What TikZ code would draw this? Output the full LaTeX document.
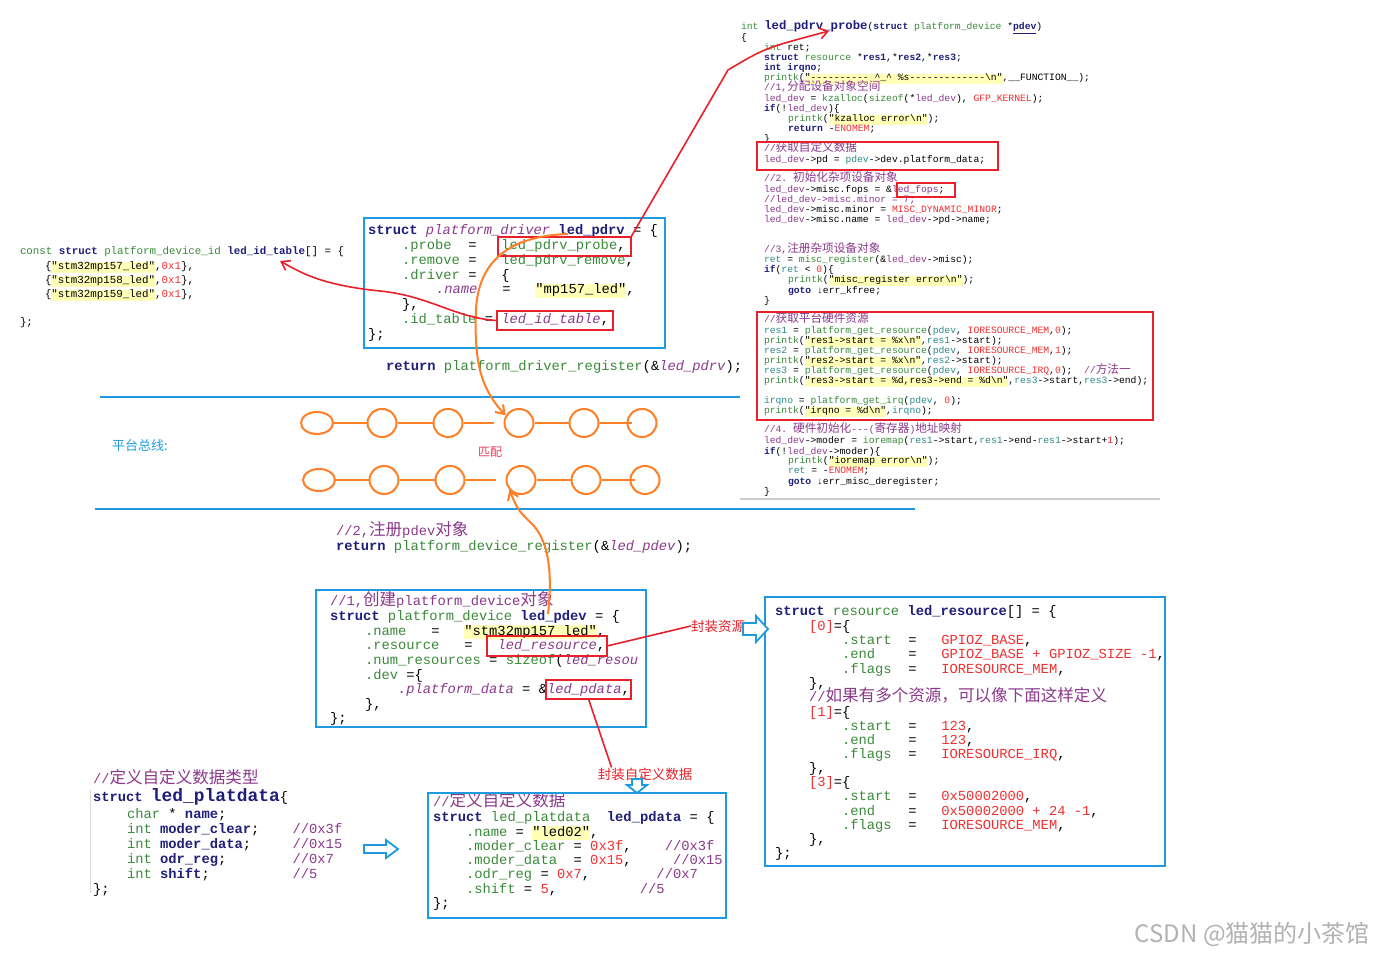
\documentclass[tikz,border=0pt]{standalone}
\usepackage{fontspec}
\setmonofont{Liberation Mono}
\newfontfamily\cjk[Scale=1.2]{Noto Sans CJK SC}
\newfontfamily\cjkb{Noto Sans CJK SC}
\usetikzlibrary{shapes.geometric,arrows.meta}
\definecolor{kw}{HTML}{1F1F7A}
\definecolor{gn}{HTML}{3A8A3A}
\definecolor{pu}{HTML}{8B3A8B}
\definecolor{rd}{HTML}{F03030}
\definecolor{tl}{HTML}{2E8B8B}
\definecolor{hly}{HTML}{FFFFB8}
\definecolor{blueL}{HTML}{1E9BE0}
\definecolor{orangeL}{HTML}{FF7F27}
\definecolor{redL}{HTML}{E8202A}
\definecolor{pinkL}{HTML}{E8405A}
\newcommand\cK[1]{{\color{kw}\bfseries #1}}
\newcommand\cG[1]{{\color{gn}#1}}
\newcommand\cP[1]{{\color{pu}#1}}
\newcommand\cI[1]{{\color{pu}\itshape #1}}
\newcommand\cR[1]{{\color{rd}#1}}
\newcommand\cT[1]{{\color{tl}#1}}
\newcommand\zh[1]{{\cjk #1}}
\newcommand\bs{\textbackslash}
\newcommand\hl[1]{{\setlength{\fboxsep}{0pt}\colorbox{hly}{\strut #1}}}
\newcounter{lnc}
\newcommand\codeln[3]{\stepcounter{lnc}\node[cl] (ln\thelnc) at (#1,#2) {#3};}
\tikzset{
  cl/.style={anchor=base west, inner sep=0pt, outer sep=0pt},
  rbox/.style={draw=redL, line width=1.6pt, inner sep=0pt, outer sep=0pt, anchor=north west},
  bbox/.style={draw=blueL, line width=2pt, inner sep=0pt, outer sep=0pt, anchor=north west},
  bub/.style={ellipse, draw=orangeL, line width=2pt, minimum width=29, minimum height=28, inner sep=0pt},
  bubw/.style={bub, minimum width=32, minimum height=22},
  orgline/.style={draw=orangeL, line width=2pt},
  orgarr/.style={draw=orangeL, line width=2pt, -{Straight Barb[length=8pt,width=11pt]}},
  redl/.style={draw=redL, line width=1.6pt},
  redarr/.style={draw=redL, line width=1.6pt, -{Straight Barb[length=8pt,width=11pt]}},
  hollow/.style={draw=blueL, line width=1.8pt, fill=white, line join=miter},
  buslabel/.style={font=\cjkb\fontsize{13}{13}\selectfont, text=blueL, anchor=west, inner sep=0pt},
  redlabel/.style={font=\cjkb\fontsize{13.5}{13.5}\selectfont, text=redL, inner sep=0pt},
}
\begin{document}
\begin{tikzpicture}[x=1pt,y=-1pt]
\fill[white] (0,0) rectangle (1374,957);
\useasboundingbox (0,0) rectangle (1374,957);

% ---------- top-right code ----------
\begin{scope}[font=\ttfamily\fontsize{9.7}{10}\selectfont]
\codeln{741}{30}{\cG{int} {\fontsize{12.3}{12}\selectfont\cK{led\_pdrv\_probe}}(\cK{struct} \cG{platform\_device} *\cK{\underline{pdev}})}
\codeln{741}{41}{\{}
\codeln{764}{51}{\cG{int} ret;}
\codeln{764}{61}{\cK{struct} \cG{resource} *\cK{res1},*\cK{res2},*\cK{res3};}
\codeln{764}{71}{\cK{int} \cK{irqno};}
\codeln{764}{81}{\cG{printk}(\hl{"----------~\textasciicircum\_\textasciicircum{}~\%s-------------\bs n"},\_\_FUNCTION\_\_);}
\codeln{764}{91}{\cP{//1,\zh{分配设备对象空间}}}
\codeln{764}{102}{\cP{led\_dev} = \cG{kzalloc}(\cG{sizeof}(*\cP{led\_dev}), \cR{GFP\_KERNEL});}
\codeln{764}{112}{\cK{if}(!\cP{led\_dev})\{}
\codeln{788}{122}{\cG{printk}(\hl{"kzalloc error\bs n"});}
\codeln{788}{132}{\cK{return} -\cR{ENOMEM};}
\codeln{764}{142}{\}}
\codeln{764}{152}{\cP{//\zh{获取自定义数据}}}
\codeln{764}{163}{\cP{led\_dev}->pd = \cT{pdev}->dev.platform\_data;}
\codeln{764}{182}{\cP{//2. \zh{初始化杂项设备对象}}}
\codeln{764}{193}{\cP{led\_dev}->misc.fops = \&\cP{led\_fops};}
\codeln{764}{203}{\cP{//led\_dev->misc.minor = 7;}}
\codeln{764}{213}{\cP{led\_dev}->misc.minor = \cR{MISC\_DYNAMIC\_MINOR};}
\codeln{764}{223}{\cP{led\_dev}->misc.name = \cP{led\_dev}->pd->name;}
\codeln{764}{253}{\cP{//3,\zh{注册杂项设备对象}}}
\codeln{764}{263}{\cT{ret} = \cG{misc\_register}(\&\cP{led\_dev}->misc);}
\codeln{764}{273}{\cK{if}(\cT{ret} < \cR{0})\{}
\codeln{788}{283}{\cG{printk}(\hl{"misc\_register error\bs n"});}
\codeln{788}{294}{\cK{goto} ↓err\_kfree;}
\codeln{764}{304}{\}}
\codeln{764}{323}{\cP{//\zh{获取平台硬件资源}}}
\codeln{764}{334}{\cT{res1} = \cG{platform\_get\_resource}(\cT{pdev}, \cR{IORESOURCE\_MEM},\cR{0});}
\codeln{764}{344}{\cG{printk}(\hl{"res1->start = \%x\bs n"},\cT{res1}->start);}
\codeln{764}{354}{\cT{res2} = \cG{platform\_get\_resource}(\cT{pdev}, \cR{IORESOURCE\_MEM},\cR{1});}
\codeln{764}{364}{\cG{printk}(\hl{"res2->start = \%x\bs n"},\cT{res2}->start);}
\codeln{764}{374}{\cT{res3} = \cG{platform\_get\_resource}(\cT{pdev}, \cR{IORESOURCE\_IRQ},\cR{0});~~\cP{//\zh{方法一}}}
\codeln{764}{384}{\cG{printk}(\hl{"res3->start = \%d,res3->end = \%d\bs n"},\cT{res3}->start,\cT{res3}->end);}
\codeln{764}{404}{\cT{irqno} = \cG{platform\_get\_irq}(\cT{pdev}, \cR{0});}
\codeln{764}{414}{\cG{printk}(\hl{"irqno = \%d\bs n"},\cT{irqno});}
\codeln{764}{433}{\cP{//4. \zh{硬件初始化}---(\zh{寄存器})\zh{地址映射}}}
\codeln{764}{444}{\cP{led\_dev}->moder = \cG{ioremap}(\cT{res1}->start,\cT{res1}->end-\cT{res1}->start+\cR{1});}
\codeln{764}{454}{\cK{if}(!\cP{led\_dev}->moder)\{}
\codeln{788}{464}{\cG{printk}(\hl{"ioremap error\bs n"});}
\codeln{788}{474}{\cT{ret} = -\cR{ENOMEM};}
\codeln{788}{484}{\cK{goto} ↓err\_misc\_deregister;}
\codeln{764}{494}{\}}
\end{scope}
\draw[black!20, line width=2.5pt] (740,499) -- (1160,499);

% ---------- left id table ----------
\begin{scope}[font=\ttfamily\fontsize{10.8}{11}\selectfont]
\codeln{20}{255}{\cG{const} \cK{struct} \cG{platform\_device\_id} \cK{led\_id\_table}[] = \{}
\codeln{45}{270}{\{\hl{"stm32mp157\_led"},\cR{0x1}\},}
\codeln{45}{284}{\{\hl{"stm32mp158\_led"},\cR{0x1}\},}
\codeln{45}{298}{\{\hl{"stm32mp159\_led"},\cR{0x1}\},}
\codeln{20}{326}{\};}
\end{scope}

% ---------- big code (13.8) ----------
\begin{scope}[font=\ttfamily\fontsize{13.8}{14}\selectfont]
% platform_driver
\codeln{368}{235}{\cK{struct} \cI{platform\_driver} \cK{led\_pdrv} = \{}
\codeln{402}{250}{\cG{.probe}~~=~~~\cG{led\_pdrv\_probe},}
\codeln{402}{265}{\cG{.remove}~=~~~\cG{led\_pdrv\_remove},}
\codeln{402}{280}{\cG{.driver}~=~~~\{}
\codeln{436}{294}{\cI{.name}~~~=~~~\hl{"mp157\_led"},}
\codeln{402}{309}{\},}
\codeln{402}{324}{\cG{.id\_table} = \cI{led\_id\_table},}
\codeln{368}{339}{\};}
\codeln{386}{371}{\cK{return} \cG{platform\_driver\_register}(\&\cI{led\_pdrv});}
% pdev register
\codeln{336}{535}{\cP{//2,\zh{注册}pdev\zh{对象}}}
\codeln{336}{550}{\cK{return} \cG{platform\_device\_register}(\&\cI{led\_pdev});}
\codeln{330}{605}{\cP{//1,\zh{创建}platform\_device\zh{对象}}}
\codeln{330}{620}{\cK{struct} \cG{platform\_device} \cK{led\_pdev} = \{}
\codeln{365}{635}{\cG{.name}~~~=~~~\hl{"stm32mp157\_led"},}
\codeln{365}{649}{\cG{.resource}~~~=~~~\cI{led\_resource},}
\codeln{365}{664}{\cG{.num\_resources} = \cG{sizeof}(\cI{led\_resou}}
\codeln{365}{679}{\cG{.dev} =\{}
\codeln{398}{693}{\cI{.platform\_data} = \&\cI{led\_pdata},}
\codeln{365}{708}{\},}
\codeln{330}{722}{\};}
% resource
\codeln{775}{615}{\cK{struct} \cG{resource} \cK{led\_resource}[] = \{}
\codeln{809}{630}{\cR{[0]}=\{}
\codeln{842}{644}{\cG{.start}~~=~~~\cR{GPIOZ\_BASE},}
\codeln{842}{658}{\cG{.end}~~~~=~~~\cR{GPIOZ\_BASE + GPIOZ\_SIZE -1},}
\codeln{842}{673}{\cG{.flags}~~=~~~\cR{IORESOURCE\_MEM},}
\codeln{809}{687}{\},}
\codeln{809}{701}{\cP{//\zh{如果有多个资源，可以像下面这样定义}}}
\codeln{809}{716}{\cR{[1]}=\{}
\codeln{842}{730}{\cG{.start}~~=~~~\cR{123},}
\codeln{842}{744}{\cG{.end}~~~~=~~~\cR{123},}
\codeln{842}{758}{\cG{.flags}~~=~~~\cR{IORESOURCE\_IRQ},}
\codeln{809}{772}{\},}
\codeln{809}{786}{\cR{[3]}=\{}
\codeln{842}{800}{\cG{.start}~~=~~~\cR{0x50002000},}
\codeln{842}{815}{\cG{.end}~~~~=~~~\cR{0x50002000 + 24 -1},}
\codeln{842}{829}{\cG{.flags}~~=~~~\cR{IORESOURCE\_MEM},}
\codeln{809}{843}{\},}
\codeln{775}{857}{\};}
% led_platdata type
\codeln{93}{783}{\cP{//\zh{定义自定义数据类型}}}
\codeln{93}{801}{\cK{struct} {\fontsize{17.9}{18}\selectfont\cK{led\_platdata}}\{}
\codeln{127}{818}{\cG{char} * \cK{name};}
\codeln{127}{833}{\cG{int} \cK{moder\_clear};~~~~\cP{//0x3f}}
\codeln{127}{848}{\cG{int} \cK{moder\_data};~~~~~\cP{//0x15}}
\codeln{127}{863}{\cG{int} \cK{odr\_reg};~~~~~~~~\cP{//0x7}}
\codeln{127}{878}{\cG{int} \cK{shift};~~~~~~~~~~\cP{//5}}
\codeln{93}{893}{\};}
% led_pdata
\codeln{433}{806}{\cP{//\zh{定义自定义数据}}}
\codeln{433}{821}{\cK{struct} \cG{led\_platdata}~~\cK{led\_pdata} = \{}
\codeln{466}{836}{\cG{.name} = \hl{"led02"},}
\codeln{466}{850}{\cG{.moder\_clear} = \cR{0x3f},~~~~\cP{//0x3f}}
\codeln{466}{864}{\cG{.moder\_data}~~= \cR{0x15},~~~~~\cP{//0x15}}
\codeln{466}{878}{\cG{.odr\_reg} = \cR{0x7},~~~~~~~~\cP{//0x7}}
\codeln{466}{893}{\cG{.shift} = \cR{5},~~~~~~~~~~\cP{//5}}
\codeln{433}{907}{\};}
\end{scope}
\draw[black!15, line width=0.8pt] (90,790) -- (90,893);

% ---------- boxes ----------
\node[bbox, minimum width=301, minimum height=130] (drvBox) at (364,218) {};
\node[bbox, minimum width=330, minimum height=137] (pdevBox) at (316,590) {};
\node[bbox, minimum width=400, minimum height=269] (resBox) at (765,597) {};
\node[bbox, minimum width=298, minimum height=125] (pdataBox) at (428,793) {};

\node[rbox, minimum width=241, minimum height=28] (rbPd) at (757,142) {};
\node[rbox, minimum width=58, minimum height=14] (rbFops) at (897,183) {};
\node[rbox, minimum width=396, minimum height=108] (rbRes) at (757,312) {};
\node[rbox, minimum width=133, minimum height=19] (bProbe) at (498,237) {};
\node[rbox, minimum width=116, minimum height=19] (bId) at (497,311) {};
\node[rbox, minimum width=120, minimum height=20] (bRes) at (487,636) {};
\node[rbox, minimum width=85, minimum height=19] (bPdata) at (546,680) {};

% ---------- platform bus ----------
\draw[blueL, line width=2.5pt] (100,397) -- (740,397);
\draw[blueL, line width=2.5pt] (95,509) -- (915,509);
\node[buslabel] (busL) at (112,446) {平台总线:};
\node[font=\cjkb\fontsize{12}{12}\selectfont, text=pinkL, inner sep=0pt] (match) at (490,452) {匹配};

\node[bubw] (u1) at (317,423) {};
\node[bub] (u2) at (382,423) {};
\node[bub] (u3) at (448,423) {};
\node[bub] (u4) at (519,423) {};
\node[bub] (u5) at (584,423) {};
\node[bub] (u6) at (642,423) {};
\draw[orgline] (u1.east) -- (u2.west);
\draw[orgline] (u2.east) -- (u3.west);
\draw[orgline] (u3.east) -- ([xshift=-10pt]u4.west);
\draw[orgline] (u4.east) -- (u5.west);
\draw[orgline] (u5.east) -- ([xshift=5pt]u6.west);

\node[bubw] (d1) at (319,480) {};
\node[bub] (d2) at (384,480) {};
\node[bub] (d3) at (450,480) {};
\node[bub] (d4) at (521,480) {};
\node[bub] (d5) at (586,480) {};
\node[bub] (d6) at (645,480) {};
\draw[orgline] (d1.east) -- (d2.west);
\draw[orgline] (d2.east) -- (d3.west);
\draw[orgline] (d3.east) -- ([xshift=-10pt]d4.west);
\draw[orgline] (d4.east) -- (d5.west);
\draw[orgline] (d5.east) -- ([xshift=5pt]d6.west);

% ---------- orange arrows ----------
\coordinate (pdrvS) at (568,234);
\coordinate (pdevS) at (548,614);
\draw[orgarr] (pdrvS) .. controls (505,236) and (478,265) .. (476,310) .. controls (474,360) and (480,388) .. (u4.150);
\draw[orgarr] (pdevS) .. controls (553,570) and (548,538) .. (530,522) .. controls (518,510) .. (d4.220);

% ---------- red connectors ----------
\coordinate (probeT) at (829,31);
\coordinate (idT) at (280,261);
\draw[redarr] (bProbe.north east) -- (728,70) .. controls (765,48) .. (probeT);
\draw[redarr] (bId.west) .. controls (455,318) and (430,296) .. (380,291) .. controls (320,285) and (300,272) .. (idT);

\node[redlabel] (lblRes) at (718,626) {封装资源};
\node[redlabel] (lblPd) at (645,774) {封装自定义数据};
\draw[redl] (bRes.east) -- (lblRes.west);
\draw[redl] (bPdata.south) -- ([xshift=14pt]lblPd.north west);

% ---------- hollow blue arrows ----------
\draw[hollow] (743,623) -- (756,623) -- (756,616) -- (768,629) -- (756,642) -- (756,635) -- (743,635) -- cycle;
\draw[hollow] (364,845) -- (386,845) -- (386,840) -- (398,849) -- (386,858) -- (386,853) -- (364,853) -- cycle;
\draw[hollow] (632,779) -- (642,779) -- (642,785) -- (647,785) -- (637,793) -- (627,785) -- (632,785) -- cycle;

% ---------- watermark ----------
\node[font=\cjkb\fontsize{24}{24}\selectfont, text=black!30, anchor=east, inner sep=0pt] (wm) at (1370,934) {CSDN @猫猫的小茶馆};
\end{tikzpicture}
\end{document}
